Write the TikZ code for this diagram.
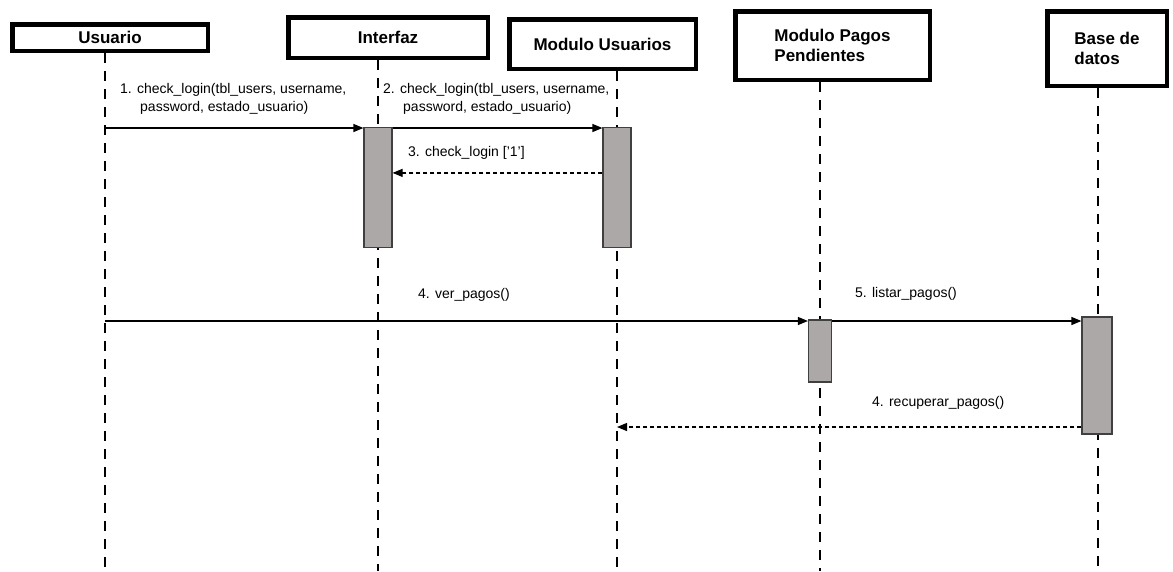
\documentclass[tikz,border=0pt]{standalone}
\usepackage{fontspec}
\setmainfont{Liberation Sans}
\usetikzlibrary{positioning,arrows.meta,calc}
\definecolor{actgray}{RGB}{172,168,168}

\begin{document}
\begin{tikzpicture}[x=1pt,y=-1pt,
    obj/.style={draw,line width=4.5pt,fill=white,align=left,inner sep=0pt,font=\bfseries\fontsize{17}{20}\selectfont},
    life/.style={line width=2.4pt,dash pattern=on 10pt off 8pt},
    act/.style={draw=black!75,line width=1.2pt,fill=actgray,inner sep=0pt,minimum width=28pt},
    msg/.style={line width=1.2pt,-{Triangle[length=10pt,width=8pt]}},
    ret/.style={msg,dash pattern=on 4pt off 3pt},
    lbl/.style={anchor=west,inner sep=0pt,align=left,font=\fontsize{14}{18}\selectfont}]
  \useasboundingbox (0,0) rectangle (1173,571);
      % objetos
      \node[obj,minimum width=195.5pt,minimum height=26.5pt] (usr) at (110,37.5) {Usuario};
      \node[obj,minimum width=199.5pt,minimum height=40.5pt] (intf) at (388,37.5) {Interfaz};
      \node[obj,minimum width=186.5pt,minimum height=49.5pt] (modu) at (602.5,44) {Modulo Usuarios};
      \node[obj,minimum width=194.5pt,minimum height=68.5pt] (modp) at (832.5,45.5) {Modulo Pagos\\Pendientes};
      \node[obj,minimum width=119.5pt,minimum height=74.5pt] (bd) at (1107,48.5) {Base de\\datos};

      % lineas de vida
      \coordinate (usrE) at (105,571);
      \coordinate (intfE) at (378,571);
      \coordinate (moduE) at (617,571);
      \coordinate (modpE) at (820,571);
      \coordinate (bdE) at (1098,571);
      \draw[life] (usr.south -| usrE) -- (usrE);
      \draw[life] (intf.south -| intfE) -- (intfE);
      \draw[life] (modu.south -| moduE) -- (moduE);
      \draw[life] (modp.south -| modpE) -- (modpE);
      \draw[life] (bd.south -| bdE) -- (bdE);

      % activaciones
      \node[act,minimum height=120pt] (a1) at (378,187.5) {};
      \node[act,minimum height=120pt] (a2) at (617,187.5) {};
      \node[act,minimum width=23pt,minimum height=62pt] (a3) at (820,351) {};
      \node[act,minimum width=30pt,minimum height=117pt] (a4) at (1097,375.5) {};

      % mensajes
      \coordinate (u1) at (105,128);
      \coordinate (u4) at (105,321);
      \coordinate (m6) at (617,427);
      \draw[msg] (u1) -- (u1 -| a1.west);
      \draw[msg] (u1 -| a1.east) -- (u1 -| a2.west);
      \draw[ret] ([yshift=-46pt]a2.north west) -- ([yshift=-46pt]a1.north east);
      \draw[msg] (u4) -- (u4 -| a3.west);
      \draw[msg] (u4 -| a3.east) -- (u4 -| a4.west);
      \draw[ret] (m6 -| a4.west) -- (m6);

      \node[lbl] (l1) at (120,99) {1. check\_login(tbl\_users, username,\\\hspace*{20pt}password, estado\_usuario)};
      \node[lbl] (l2) at (383,99) {2. check\_login(tbl\_users, username,\\\hspace*{20pt}password, estado\_usuario)};
      \node[lbl] (l3) at (408,153) {3. check\_login ['1']};
      \node[lbl] (l4) at (418,295) {4. ver\_pagos()};
      \node[lbl] (l5) at (855,294) {5. listar\_pagos()};
      \node[lbl] (l6) at (872,403) {4. recuperar\_pagos()};
\end{tikzpicture}
\end{document}
